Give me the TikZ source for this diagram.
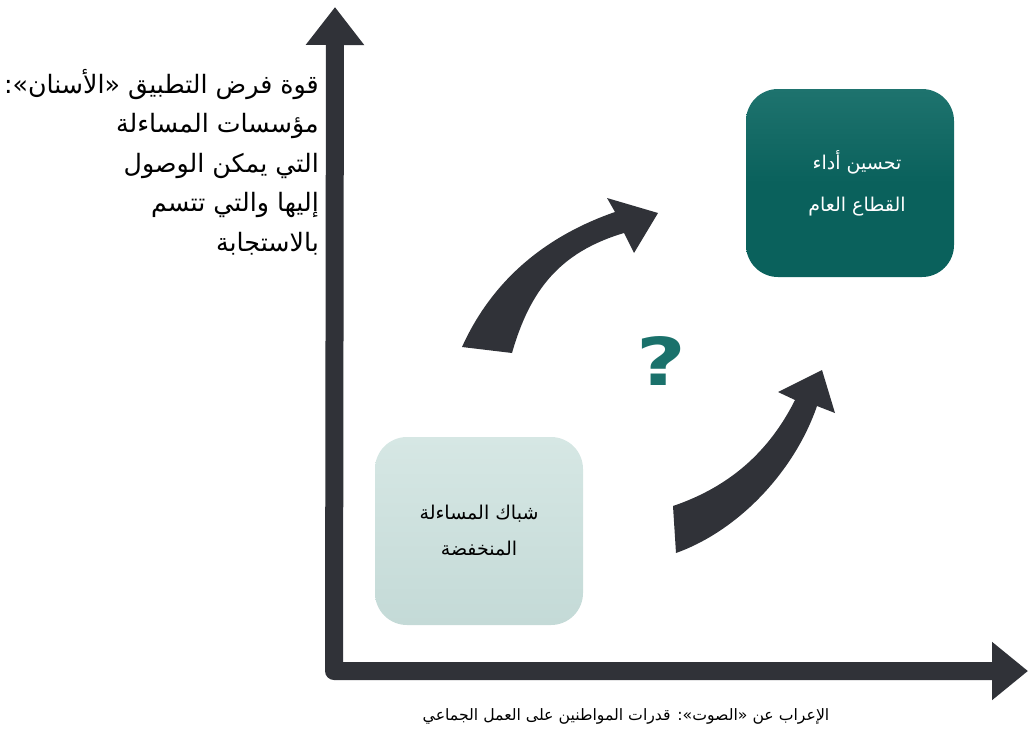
\documentclass[tikz,border=0pt]{standalone}
\usepackage{fontspec}
\usetikzlibrary{arrows.meta}
\newfontfamily\arabicfont[Script=Arabic]{DejaVu Sans}
\TeXXeTstate=1
\definecolor{axisgray}{HTML}{303238}
\definecolor{lowfill}{HTML}{C4DAD7}
\definecolor{lowtop}{HTML}{D6E7E4}
\definecolor{highfill}{HTML}{0A615C}
\definecolor{hightop}{HTML}{1E736E}
\definecolor{qteal}{HTML}{1A716B}

\tikzset{
  box/.style={minimum width=208pt, minimum height=188pt, rounded corners=32pt,
    align=center, inner sep=0pt},
  lowbox/.style={box, top color=lowtop, bottom color=lowfill, text=black,
    font=\arabicfont\fontsize{19}{36}\selectfont},
  highbox/.style={box, top color=hightop, bottom color=highfill, middle color=highfill, text=white,
    font=\arabicfont\fontsize{19}{42}\selectfont},
  axislabel/.style={inner sep=0pt, text=black},
  bigarrow/.style={fill=axisgray}
}

\begin{document}
\begin{tikzpicture}[x=1pt,y=-1pt,>=stealth]
\useasboundingbox (0,0) rectangle (1029,732);
%----------------------------
% Axes
%----------------------------
\coordinate (origin) at (334,671);
\coordinate (ytip) at (335,7);
\coordinate (xtip) at (1028,671);
\draw[axisgray, line width=18pt, line join=round,
  {Triangle[length=38pt,width=56pt]}-{Triangle[length=36pt,width=56pt]}]
  (ytip) -- (origin) -- (xtip);

% vertical axis label
\node[axislabel, anchor=east, align=right,
  font=\arabicfont\fontsize{25.3}{39.5}\selectfont] (ylabel) at (319,162)
  {\beginR قوة فرض التطبيق «الأسنان»:\endR\\
   \beginR مؤسسات المساءلة\endR\\
   \beginR التي يمكن الوصول\endR\\
   \beginR إليها والتي تتسم\endR\\
   \beginR بالاستجابة\endR};

% horizontal axis label
\node[axislabel, font=\arabicfont\fontsize{15.7}{18}\selectfont] (xlabel) at (626,716)
  {\beginR الإعراب عن «الصوت»: قدرات المواطنين على العمل الجماعي\endR};

%----------------------------
% Boxes
%----------------------------
\node[lowbox] (low) at (479,531)
  {\beginR شباك المساءلة\endR\\ \beginR المنخفضة\endR};
\node[highbox] (high) at (850,183)
  {\hspace*{14pt}\beginR تحسين أداء\endR\\ \hspace*{14pt}\beginR القطاع العام\endR};

% question mark
\node[text=qteal, inner sep=0pt, xscale=1.3,
  font=\arabicfont\bfseries\fontsize{66}{66}\selectfont] (quest) at (661,361) {?};

%----------------------------
% Curved arrows
%----------------------------
% upper arrow
\fill[bigarrow]
  (462,347) .. controls (490,285) and (540,238) .. (615,212)
  -- (607,198) -- (658,213) -- (634,253) -- (624,233)
  .. controls (560,252) and (530,290) .. (512,353) -- cycle;
% lower arrow
\fill[bigarrow]
  (673,506) .. controls (720,490) and (765,460) .. (795,400)
  -- (778,392) -- (822,370) -- (835,413) -- (817,406)
  .. controls (795,470) and (740,530) .. (676,553) -- cycle;

\end{tikzpicture}
\end{document}
